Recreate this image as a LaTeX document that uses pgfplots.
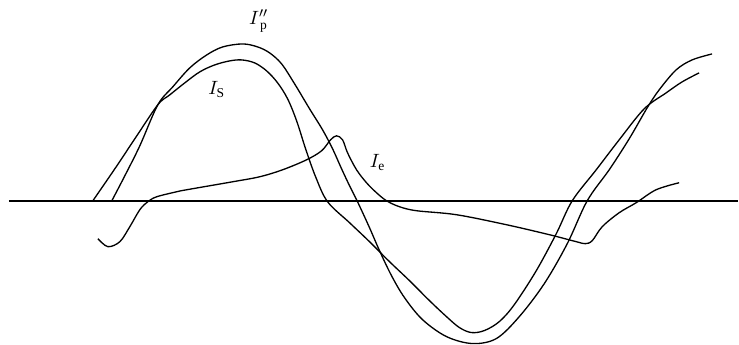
\documentclass[border=0pt]{standalone}
\usepackage{fontspec}
\setmainfont{Liberation Serif}
\usepackage{pgfplots}
\pgfplotsset{compat=1.18}

% curves: x in pixels, y = 201 - pixel row
\pgfplotstableread{
x y
112 0
125 25
140 55
158 96
173 114
190 133
207 146
223 154
243 157
258 154
270 148
282 137
295 117
310 92
323 71
333 52
342 32
350 15
358 -1
370 -27
380 -50
392 -75
405 -97
423 -119
447 -136
473 -143
497 -138
520 -116
545 -83
568 -43
588 0
610 31
630 62
648 93
660 111
677 131
693 141
713 147
}\Ip

\pgfplotstableread{
x y
93 0
115 32
135 62
158 96
170 106
185 118
200 129
215 136
230 140
242 141
255 138
267 130
278 118
288 102
297 80
306 52
316 24
328 -1
350 -22
370 -41
390 -61
410 -80
430 -100
447 -116
460 -127
472 -132
485 -130
500 -121
515 -104
537 -70
557 -33
573 0
597 31
620 61
645 92
667 108
683 119
700 128
}\Is

\pgfplotstableread{
x y
98 -38
108 -46
120 -41
130 -26
140 -9
148 -1
157 4
177 9
187 11
233 19
260 24
283 31
307 41
322 50
331 61
337 65
343 61
348 48
357 31
367 18
377 8
387 0
400 -6
417 -10
457 -14
507 -24
550 -34
577 -41
586 -43
593 -40
603 -26
620 -12
637 -2
657 11
680 18
}\Ie

\begin{document}
\begin{tikzpicture}
\begin{axis}[
    scale only axis,
    width=14.78cm, height=6.9cm,
    xmin=0, xmax=739,
    ymin=-144, ymax=201,
    axis line style={draw=none},
    ticks=none,
    clip=false,
]
\addplot[black, line width=1.1pt, no markers] coordinates {(9,0) (739,0)};
\addplot[black, line width=0.75pt, smooth, tension=0.55, no markers] table {\Ip};
\addplot[black, line width=0.75pt, smooth, tension=0.55, no markers] table {\Is};
\addplot[black, line width=0.75pt, smooth, tension=0.55, no markers] table {\Ie};
\node[font=\fontsize{11}{13}\selectfont] at (axis cs:259,180) {$I''_{\,\mathrm{p}}$};
\node[font=\fontsize{11}{13}\selectfont] at (axis cs:217,111) {$I_{\mathrm{S}}$};
\node[font=\fontsize{11}{13}\selectfont] at (axis cs:378,38) {$I_{\mathrm{e}}$};
\end{axis}
\end{tikzpicture}
\end{document}
